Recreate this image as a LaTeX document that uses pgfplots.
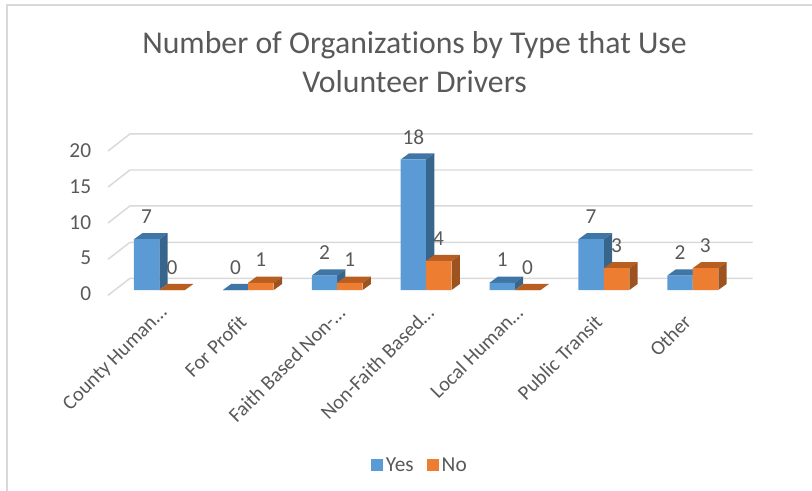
\documentclass[border=0pt]{standalone}
\usepackage{fontspec}
\setmainfont[Ligatures=NoCommon]{Carlito}
\usepackage{pgfplots}
\pgfplotsset{compat=1.18}
\definecolor{barblue}{HTML}{5B9BD5}
\definecolor{barorange}{HTML}{ED7D31}
\definecolor{bluetop}{HTML}{4076A6}
\definecolor{blueside}{HTML}{38658C}
\definecolor{orangetop}{HTML}{B85E20}
\definecolor{orangeside}{HTML}{9C5320}
\definecolor{gridc}{HTML}{D9D9D9}
\definecolor{txt}{HTML}{595959}
% depth of a bar in axis units
\newcommand{\dX}{0.0934}
\newcommand{\dY}{0.83}
% faces of a box: left x, right x, value, top colour, side colour
\newcommand{\boxfaces}[5]{%
  \pgfmathsetmacro{\xa}{#1+\dX}\pgfmathsetmacro{\xb}{#2+\dX}\pgfmathsetmacro{\yb}{#3+\dY}%
  \addplot[fill=#4,draw=none,forget plot] coordinates {(#1,#3) (#2,#3) (\xb,\yb) (\xa,\yb)} -- cycle;
  \addplot[fill=#5,draw=none,forget plot] coordinates {(#2,0) (\xb,\dY) (\xb,\yb) (#2,#3)} -- cycle;
}
\pgfplotsset{
  square legend/.style={legend image code/.code={\fill[##1] (0pt,-4.5pt) rectangle (9pt,4.5pt);}},
  datalabel/.style={nodes near coords,/pgf/number format/assume math mode=true,
    every node near coord/.append style={font=\fontsize{16}{18}\selectfont,text=txt,anchor=center,yshift=17pt,xshift=#1}},
}
\begin{document}
\begin{tikzpicture}
\path[use as bounding box] (-81pt,217.5pt) rectangle (528pt,-150.75pt);
\draw[gridc,line width=1.5pt] (-75.5pt,-150.75pt) -- (-75.5pt,213.75pt) -- (528pt,213.75pt);
\begin{axis}[
  at={(0pt,-2.72pt)}, anchor=south west,
  scale only axis, width=483.5pt, height=111.47pt,
  xmin=-0.577, xmax=6.675, ymin=-0.5, ymax=20, clip=false,
  axis line style={draw=none}, major tick length=0pt,
  xtick={0,1,2,3,4,5,6},
  xticklabels={County Human\dots,For Profit\kern10pt,Faith Based Non-\dots,Non-Faith Based\dots,Local Human\dots,Public Transit\kern10pt,Other\kern10pt},
  ytick={-0.28,4.69,9.52,14.48,19.45},
  yticklabels={0,5,10,15,20},
  yticklabel style={anchor=east,inner sep=0pt,xshift=-12.5pt,yshift=-1.5pt,font=\fontsize{16}{18}\selectfont,text=txt},
  xticklabel style={rotate=45,anchor=north east,inner sep=0pt,xshift=-5.85pt,yshift=-4.94pt,font=\fontsize{15.3}{17}\selectfont,text=txt},
  title={Number of Organizations by Type that Use\\Volunteer Drivers},
  title style={at={(axis description cs:0.4754,1.505)},anchor=center,align=center,yshift=0pt,text=txt,font=\fontsize{23.8}{29.25}\selectfont},
  legend style={at={(axis description cs:0.4845,-1.155)},anchor=center,draw=none,fill=none,legend columns=2,
    font=\fontsize{16}{18}\selectfont,text=txt,/tikz/every even column/.append style={column sep=8pt}},
]
% walls
\addplot[gridc,line width=1.1pt,forget plot] coordinates {(-0.577,-0.73) (-0.33,1.61) (6.675,1.61)};
\addplot[gridc,line width=1.1pt,forget plot] coordinates {(-0.577,4.23) (-0.33,6.58) (6.675,6.58)};
\addplot[gridc,line width=1.1pt,forget plot] coordinates {(-0.577,9.24) (-0.33,11.59) (6.675,11.59)};
\addplot[gridc,line width=1.1pt,forget plot] coordinates {(-0.577,14.2) (-0.33,16.55) (6.675,16.55)};
\addplot[gridc,line width=1.1pt,forget plot] coordinates {(-0.577,19.17) (-0.33,21.52) (6.675,21.52)};
% labels of the orange series lie under the blue bars
\addplot[ybar,bar width=19pt,bar shift=9.5pt,draw=none,fill=none,forget plot,datalabel=9.5pt]
  coordinates {(0,0) (1,1) (2,1) (3,4) (4,0) (5,3) (6,3)};
% blue series
\boxfaces{-0.285}{0}{7}{bluetop}{blueside}
\boxfaces{0.715}{1}{0}{bluetop}{blueside}
\boxfaces{1.715}{2}{2}{bluetop}{blueside}
\boxfaces{2.715}{3}{18}{bluetop}{blueside}
\boxfaces{3.715}{4}{1}{bluetop}{blueside}
\boxfaces{4.715}{5}{7}{bluetop}{blueside}
\boxfaces{5.715}{6}{2}{bluetop}{blueside}
\addplot[ybar,bar width=19pt,bar shift=-9.5pt,draw=none,fill=barblue,square legend,datalabel=-9.5pt]
  coordinates {(0,7) (1,0) (2,2) (3,18) (4,1) (5,7) (6,2)};
\addlegendentry{Yes}
% orange series
\boxfaces{0}{0.288}{0}{orangetop}{orangeside}
\boxfaces{1}{1.288}{1}{orangetop}{orangeside}
\boxfaces{2}{2.288}{1}{orangetop}{orangeside}
\boxfaces{3}{3.288}{4}{orangetop}{orangeside}
\boxfaces{4}{4.288}{0}{orangetop}{orangeside}
\boxfaces{5}{5.288}{3}{orangetop}{orangeside}
\boxfaces{6}{6.288}{3}{orangetop}{orangeside}
\addplot[ybar,bar width=19pt,bar shift=9.5pt,draw=none,fill=barorange,square legend]
  coordinates {(0,0) (1,1) (2,1) (3,4) (4,0) (5,3) (6,3)};
\addlegendentry{No}
\end{axis}
\end{tikzpicture}
\end{document}
